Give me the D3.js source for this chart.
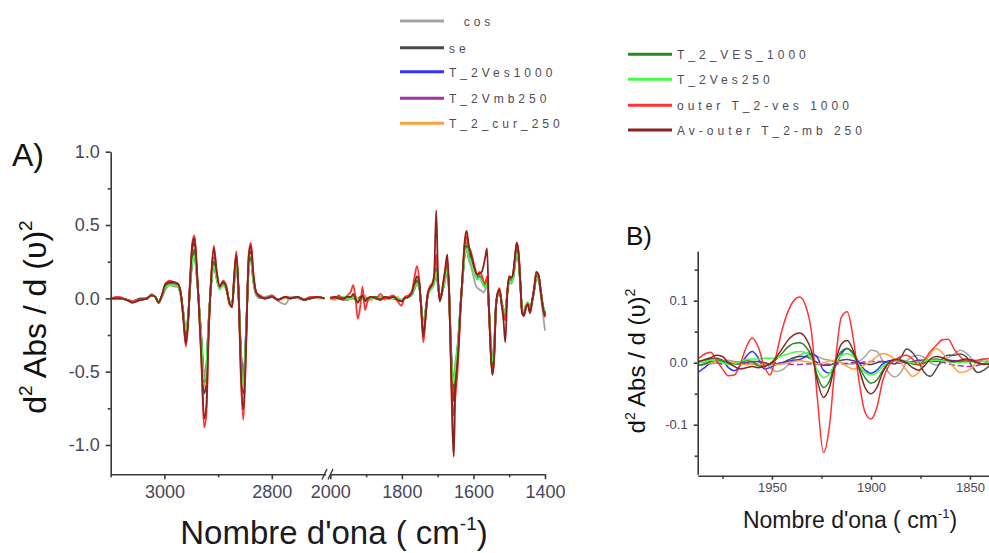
<!DOCTYPE html>
<html>
<head>
<meta charset="utf-8">
<script src="https://cdn.jsdelivr.net/npm/d3@7"></script>
<style>
  html, body { margin: 0; padding: 0; background: #fff; }
  svg { display: block; font-family: "Liberation Sans", Arial, sans-serif; }
</style>
</head>
<body>
<svg id="chart" width="989" height="553"></svg>
<script>
// ---- Series (legend order) ----
const seriesNames = ["  cos", "se", "T_2Ves1000", "T_2Vmb250", "T_2_cur_250",
                     "T_2_VES_1000", "T_2Ves250", "outer T_2-ves 1000", "Av-outer T_2-mb 250"];
const seriesColors = ["#a3a3a3", "#4b4b4b", "#3434ff", "#a034aa", "#ffa040",
                      "#228b22", "#44ff44", "#ff3333", "#8b2222"];

// ---- Panel A, high-wavenumber segment (cm-1) ----
const wnLeft = [3100, 3085, 3070, 3060, 3045, 3032, 3024, 3017, 3011, 3004,
  2998, 2990, 2982, 2975, 2970, 2965, 2960, 2956, 2952, 2948,
  2944, 2940, 2936, 2931, 2926, 2922, 2918, 2913, 2908, 2903,
  2897, 2891, 2885, 2879, 2874, 2870, 2866, 2862, 2858, 2853,
  2848, 2843, 2839, 2834, 2829, 2822, 2812, 2800, 2788, 2775,
  2765, 2752, 2740, 2728, 2715, 2702];

const cosLeft = [0.00, 0.01, -0.01, -0.02, -0.01, 0.00, 0.03, 0.01, -0.02, 0.01,
  0.06, 0.09, 0.08, 0.08, 0.03, -0.08, -0.22, -0.12, 0.08, 0.24,
  0.30, 0.16, -0.02, -0.26, -0.50, -0.46, -0.18, 0.08, 0.22, 0.14,
  0.06, 0.09, 0.06, -0.02, -0.03, 0.10, 0.22, 0.04, -0.30, -0.55,
  -0.22, 0.20, 0.26, 0.10, 0.02, 0.00, 0.01, 0.02, -0.02, -0.04,
  0.01, 0.00, -0.01, 0.01, 0.00, 0.00];
const seLeft = [0.00, 0.00, -0.01, -0.02, 0.00, 0.00, 0.02, 0.01, -0.03, 0.02,
  0.09, 0.11, 0.10, 0.09, 0.04, -0.12, -0.28, -0.16, 0.12, 0.32,
  0.38, 0.20, -0.03, -0.35, -0.65, -0.58, -0.22, 0.12, 0.28, 0.16,
  0.07, 0.10, 0.08, -0.03, -0.05, 0.14, 0.28, 0.05, -0.40, -0.65,
  -0.28, 0.25, 0.32, 0.13, 0.03, 0.01, 0.00, 0.01, -0.01, 0.01,
  0.00, 0.01, -0.01, 0.00, 0.01, 0.00];
const blueLeft = [0.00, 0.00, -0.01, -0.02, -0.01, 0.00, 0.02, 0.01, -0.02, 0.02,
  0.08, 0.10, 0.10, 0.08, 0.04, -0.10, -0.25, -0.14, 0.10, 0.27,
  0.32, 0.17, -0.02, -0.30, -0.56, -0.50, -0.19, 0.10, 0.24, 0.15,
  0.07, 0.10, 0.07, -0.02, -0.04, 0.12, 0.24, 0.05, -0.34, -0.57,
  -0.24, 0.21, 0.27, 0.12, 0.03, 0.01, 0.00, 0.01, -0.01, 0.01,
  0.00, 0.01, -0.01, 0.00, 0.01, 0.00];
const purpleLeft = [0.00, 0.00, -0.01, -0.02, -0.01, 0.00, 0.02, 0.01, -0.02, 0.02,
  0.07, 0.09, 0.09, 0.08, 0.03, -0.09, -0.24, -0.14, 0.09, 0.26,
  0.31, 0.17, -0.02, -0.29, -0.54, -0.48, -0.19, 0.09, 0.24, 0.14,
  0.07, 0.09, 0.07, -0.02, -0.04, 0.11, 0.24, 0.05, -0.33, -0.56,
  -0.24, 0.21, 0.27, 0.11, 0.03, 0.01, 0.00, 0.01, -0.01, 0.01,
  0.00, 0.01, -0.01, 0.00, 0.01, 0.00];
const orangeLeft = [0.00, 0.00, -0.01, -0.02, -0.01, 0.00, 0.02, 0.01, -0.03, 0.02,
  0.08, 0.10, 0.10, 0.09, 0.04, -0.11, -0.27, -0.15, 0.11, 0.30,
  0.35, 0.19, -0.02, -0.32, -0.60, -0.54, -0.21, 0.11, 0.27, 0.16,
  0.07, 0.10, 0.08, -0.02, -0.05, 0.13, 0.27, 0.05, -0.38, -0.62,
  -0.26, 0.23, 0.30, 0.12, 0.03, 0.02, 0.00, 0.01, -0.01, 0.00,
  0.00, 0.01, -0.01, 0.00, 0.01, 0.00];
const dgreenLeft = [0.00, 0.00, -0.01, -0.02, -0.01, 0.00, 0.02, 0.01, -0.03, 0.02,
  0.08, 0.10, 0.10, 0.09, 0.04, -0.10, -0.26, -0.15, 0.10, 0.28,
  0.33, 0.18, -0.02, -0.30, -0.57, -0.51, -0.20, 0.10, 0.25, 0.15,
  0.07, 0.10, 0.07, -0.02, -0.04, 0.12, 0.25, 0.05, -0.36, -0.59,
  -0.25, 0.22, 0.28, 0.12, 0.03, 0.01, 0.00, 0.01, -0.01, 0.01,
  0.00, 0.01, -0.01, 0.00, 0.01, 0.00];
const lgreenLeft = [0.00, 0.00, -0.01, -0.02, -0.01, 0.00, 0.02, 0.01, -0.02, 0.02,
  0.07, 0.09, 0.09, 0.08, 0.03, -0.09, -0.22, -0.13, 0.09, 0.25,
  0.29, 0.16, -0.02, -0.28, -0.56, -0.48, -0.18, 0.09, 0.22, 0.14,
  0.06, 0.09, 0.07, -0.02, -0.04, 0.10, 0.24, 0.04, -0.38, -0.60,
  -0.24, 0.20, 0.25, 0.11, 0.03, 0.01, 0.00, 0.01, -0.01, 0.01,
  0.00, 0.01, -0.01, 0.00, 0.01, 0.00];
const redLeft = [0.00, 0.01, -0.01, -0.02, -0.01, 0.00, 0.02, 0.01, -0.03, 0.03,
  0.10, 0.12, 0.11, 0.10, 0.05, -0.13, -0.33, -0.18, 0.14, 0.38,
  0.43, 0.24, -0.04, -0.45, -0.88, -0.80, -0.30, 0.14, 0.36, 0.20,
  0.08, 0.12, 0.09, -0.04, -0.06, 0.16, 0.32, 0.06, -0.50, -0.83,
  -0.36, 0.30, 0.38, 0.16, 0.04, 0.02, 0.00, 0.02, -0.01, 0.01,
  0.00, 0.01, -0.01, 0.01, 0.01, 0.00];
const brownLeft = [0.00, 0.00, -0.01, -0.03, -0.01, 0.00, 0.02, 0.01, -0.03, 0.03,
  0.10, 0.11, 0.11, 0.10, 0.05, -0.12, -0.31, -0.17, 0.13, 0.36,
  0.41, 0.23, -0.04, -0.42, -0.82, -0.74, -0.28, 0.13, 0.34, 0.19,
  0.08, 0.11, 0.08, -0.03, -0.06, 0.15, 0.30, 0.06, -0.46, -0.76,
  -0.33, 0.28, 0.36, 0.15, 0.04, 0.01, 0.00, 0.01, -0.01, 0.01,
  0.00, 0.01, -0.01, 0.00, 0.01, 0.00];

// ---- Panel A, fingerprint segment (cm-1) ----
const wnRight = [2000, 1988, 1976, 1964, 1952, 1942, 1936, 1930, 1923, 1916,
  1910, 1903, 1896, 1885, 1872, 1860, 1848, 1836, 1824, 1812,
  1801, 1792, 1782, 1772, 1765, 1758, 1752, 1746, 1740, 1734,
  1728, 1722, 1716, 1710, 1704, 1699, 1694, 1689, 1684, 1679,
  1673, 1668, 1663, 1659, 1655, 1651, 1646, 1641, 1636, 1630,
  1624, 1619, 1613, 1607, 1601, 1595, 1589, 1583, 1577, 1572,
  1567, 1562, 1557, 1552, 1547, 1542, 1537, 1532, 1527, 1521,
  1516, 1511, 1505, 1500, 1494, 1489, 1484, 1479, 1474, 1469,
  1464, 1459, 1454, 1448, 1442, 1436, 1430, 1424, 1418, 1412,
  1406, 1400];

const cosRight = [0.00, 0.00, 0.00, -0.01, -0.01, 0.00, 0.01, 0.00, 0.00, 0.01,
  0.00, 0.02, -0.02, 0.01, 0.00, 0.01, 0.01, 0.00, 0.00, -0.01,
  -0.01, 0.00, 0.01, 0.02, 0.06, 0.09, 0.08, -0.04, -0.17, -0.08,
  0.01, 0.05, 0.07, 0.10, 0.16, 0.08, 0.00, 0.02, 0.07, 0.12,
  0.18, 0.04, -0.30, -0.48, -0.55, -0.45, -0.36, -0.22, -0.04, 0.13,
  0.30, 0.33, 0.26, 0.22, 0.16, 0.10, 0.07, 0.06, 0.05, 0.04,
  0.06, 0.10, -0.04, -0.26, -0.40, -0.30, -0.04, 0.02, 0.04, -0.03,
  -0.07, -0.10, 0.04, 0.11, 0.10, 0.13, 0.22, 0.30, 0.25, 0.09,
  -0.07, -0.09, -0.05, -0.03, -0.07, -0.02, 0.05, 0.13, 0.12, 0.02,
  -0.10, -0.22];
const seRight = [0.00, 0.01, 0.00, -0.01, 0.01, 0.00, 0.00, 0.01, -0.01, 0.00,
  0.01, -0.01, 0.00, 0.01, 0.00, -0.01, 0.01, 0.00, 0.01, -0.01,
  -0.02, 0.00, 0.01, 0.03, 0.08, 0.12, 0.10, -0.06, -0.24, -0.12,
  0.02, 0.06, 0.08, 0.12, 0.22, 0.11, 0.00, 0.03, 0.08, 0.16,
  0.24, 0.05, -0.40, -0.62, -0.70, -0.56, -0.44, -0.27, -0.05, 0.16,
  0.35, 0.39, 0.32, 0.29, 0.23, 0.18, 0.15, 0.16, 0.14, 0.11,
  0.09, 0.13, -0.06, -0.33, -0.50, -0.38, -0.06, 0.03, 0.05, -0.03,
  -0.09, -0.13, 0.05, 0.14, 0.13, 0.16, 0.27, 0.35, 0.30, 0.11,
  -0.09, -0.11, -0.06, -0.03, -0.09, -0.02, 0.07, 0.16, 0.15, 0.05,
  -0.06, -0.12];
const blueRight = [0.00, 0.00, 0.01, 0.00, -0.01, 0.00, 0.01, 0.00, -0.01, 0.01,
  0.00, -0.01, 0.00, 0.00, 0.01, 0.00, 0.00, 0.01, 0.00, -0.01,
  -0.02, 0.00, 0.01, 0.03, 0.07, 0.11, 0.09, -0.05, -0.20, -0.10,
  0.02, 0.06, 0.08, 0.12, 0.19, 0.10, 0.00, 0.03, 0.08, 0.14,
  0.21, 0.05, -0.34, -0.54, -0.60, -0.49, -0.39, -0.24, -0.05, 0.14,
  0.32, 0.35, 0.29, 0.27, 0.21, 0.17, 0.14, 0.15, 0.13, 0.10,
  0.08, 0.12, -0.05, -0.30, -0.46, -0.35, -0.05, 0.03, 0.05, -0.03,
  -0.08, -0.12, 0.05, 0.13, 0.12, 0.15, 0.25, 0.33, 0.28, 0.10,
  -0.08, -0.10, -0.06, -0.03, -0.08, -0.02, 0.06, 0.15, 0.14, 0.05,
  -0.05, -0.11];
const purpleRight = [0.00, 0.00, 0.00, 0.00, 0.00, 0.00, 0.00, 0.00, 0.00, 0.00,
  0.00, 0.00, 0.00, 0.01, 0.00, 0.00, 0.00, 0.00, 0.01, 0.00,
  -0.01, 0.00, 0.01, 0.03, 0.07, 0.11, 0.09, -0.05, -0.19, -0.09,
  0.02, 0.06, 0.07, 0.11, 0.19, 0.10, 0.00, 0.03, 0.08, 0.14,
  0.21, 0.05, -0.33, -0.52, -0.58, -0.47, -0.38, -0.24, -0.05, 0.14,
  0.31, 0.34, 0.28, 0.26, 0.21, 0.16, 0.13, 0.14, 0.12, 0.09,
  0.08, 0.11, -0.05, -0.29, -0.44, -0.34, -0.05, 0.03, 0.05, -0.03,
  -0.08, -0.11, 0.05, 0.12, 0.12, 0.14, 0.24, 0.32, 0.27, 0.10,
  -0.08, -0.10, -0.06, -0.03, -0.08, -0.02, 0.06, 0.15, 0.13, 0.05,
  -0.05, -0.10];
const orangeRight = [0.00, -0.01, 0.00, 0.01, -0.01, 0.00, 0.00, 0.01, 0.00, -0.01,
  0.00, 0.01, 0.00, -0.01, 0.01, 0.00, -0.01, 0.01, 0.00, 0.01,
  -0.02, 0.00, 0.01, 0.03, 0.09, 0.13, 0.11, -0.06, -0.23, -0.11,
  0.02, 0.07, 0.09, 0.13, 0.24, 0.12, 0.00, 0.03, 0.09, 0.17,
  0.26, 0.04, -0.45, -0.85, -1.07, -0.70, -0.48, -0.28, -0.06, 0.16,
  0.36, 0.40, 0.33, 0.30, 0.24, 0.18, 0.15, 0.16, 0.14, 0.11,
  0.09, 0.14, -0.06, -0.34, -0.52, -0.40, -0.06, 0.04, 0.06, -0.03,
  -0.09, -0.13, 0.06, 0.14, 0.13, 0.16, 0.27, 0.36, 0.30, 0.11,
  -0.09, -0.11, -0.07, -0.03, -0.09, -0.02, 0.07, 0.16, 0.15, 0.05,
  -0.06, -0.12];
const dgreenRight = [0.00, 0.00, 0.01, 0.00, 0.00, 0.01, 0.01, -0.01, -0.01, 0.01,
  0.01, -0.01, 0.00, 0.00, 0.01, 0.00, 0.00, 0.00, 0.01, -0.01,
  -0.02, 0.00, 0.01, 0.03, 0.08, 0.12, 0.10, -0.05, -0.22, -0.11,
  0.02, 0.06, 0.08, 0.12, 0.20, 0.10, 0.00, 0.03, 0.08, 0.15,
  0.22, 0.05, -0.36, -0.56, -0.63, -0.51, -0.41, -0.25, -0.05, 0.15,
  0.33, 0.36, 0.30, 0.28, 0.22, 0.17, 0.14, 0.15, 0.13, 0.10,
  0.08, 0.12, -0.05, -0.31, -0.46, -0.36, -0.05, 0.03, 0.05, -0.03,
  -0.08, -0.12, 0.05, 0.13, 0.12, 0.15, 0.25, 0.33, 0.28, 0.10,
  -0.08, -0.10, -0.06, -0.03, -0.08, -0.02, 0.06, 0.15, 0.14, 0.05,
  -0.05, -0.10];
const lgreenRight = [0.00, 0.00, 0.00, 0.01, 0.00, 0.00, 0.01, 0.00, -0.01, 0.00,
  0.01, -0.01, 0.00, 0.00, 0.00, 0.01, 0.00, 0.00, 0.00, 0.00,
  -0.01, 0.00, 0.01, 0.03, 0.07, 0.10, 0.09, -0.05, -0.19, -0.09,
  0.02, 0.05, 0.07, 0.11, 0.18, 0.09, 0.00, 0.03, 0.07, 0.13,
  0.20, 0.04, -0.33, -0.52, -0.58, -0.47, -0.37, -0.23, -0.05, 0.14,
  0.30, 0.34, 0.28, 0.26, 0.20, 0.16, 0.13, 0.14, 0.12, 0.09,
  0.07, 0.11, -0.05, -0.28, -0.43, -0.33, -0.05, 0.03, 0.05, -0.03,
  -0.07, -0.11, 0.05, 0.12, 0.11, 0.14, 0.23, 0.31, 0.26, 0.09,
  -0.07, -0.09, -0.05, -0.03, -0.07, -0.02, 0.06, 0.14, 0.13, 0.05,
  -0.05, -0.09];
const redRight = [0.01, 0.00, 0.02, -0.01, 0.02, 0.05, 0.09, 0.01, -0.14, -0.05,
  0.08, -0.08, -0.02, 0.01, 0.00, 0.03, 0.00, 0.01, 0.02, -0.02,
  -0.05, 0.01, 0.02, 0.05, 0.14, 0.22, 0.14, -0.08, -0.30, -0.15,
  0.02, 0.08, 0.10, 0.15, 0.30, 0.12, -0.02, 0.03, 0.10, 0.18,
  0.25, 0.02, -0.38, -0.70, -0.80, -0.68, -0.55, -0.35, -0.08, 0.18,
  0.38, 0.42, 0.35, 0.32, 0.26, 0.20, 0.16, 0.18, 0.16, 0.12,
  0.10, 0.15, -0.06, -0.36, -0.52, -0.40, -0.06, 0.04, 0.07, -0.04,
  -0.10, -0.15, 0.06, 0.15, 0.14, 0.17, 0.28, 0.38, 0.32, 0.12,
  -0.10, -0.12, -0.07, -0.04, -0.10, -0.02, 0.08, 0.18, 0.16, 0.06,
  -0.06, -0.13];
const brownRight = [0.00, 0.01, 0.00, 0.00, 0.01, 0.01, 0.03, 0.00, -0.03, 0.00,
  0.02, -0.02, 0.00, 0.01, 0.00, -0.01, 0.01, 0.00, 0.01, -0.01,
  -0.02, 0.00, 0.01, 0.04, 0.10, 0.15, 0.12, -0.07, -0.26, -0.13,
  0.03, 0.07, 0.09, 0.15, 0.60, 0.15, -0.02, 0.03, 0.12, 0.20,
  0.30, 0.05, -0.45, -0.85, -1.08, -0.62, -0.48, -0.30, -0.06, 0.18,
  0.40, 0.46, 0.36, 0.30, 0.24, 0.19, 0.16, 0.17, 0.18, 0.22,
  0.28, 0.34, -0.05, -0.35, -0.52, -0.40, -0.05, 0.04, 0.06, -0.05,
  -0.15, -0.30, 0.04, 0.15, 0.14, 0.17, 0.28, 0.38, 0.31, 0.11,
  -0.10, -0.12, -0.07, -0.04, -0.10, -0.02, 0.07, 0.18, 0.16, 0.05,
  -0.06, -0.12];

// ---- Panel B, expanded 1987-1840 cm-1 window ----
const wnZoom = [1987, 1984, 1981, 1978, 1975, 1972, 1969, 1966, 1963, 1960,
  1957, 1954, 1951, 1948, 1945, 1942, 1939, 1936, 1933, 1930,
  1927, 1924, 1921, 1918, 1915, 1912, 1909, 1906, 1903, 1900,
  1897, 1894, 1891, 1888, 1885, 1882, 1879, 1876, 1873, 1870,
  1867, 1864, 1861, 1858, 1855, 1852, 1849, 1846, 1843, 1840];

const cosZoom = [0.002, 0.000, -0.002, 0.000, 0.003, 0.004, 0.002, 0.000, -0.002, 0.000,
  0.002, 0.000, -0.008, -0.014, -0.012, -0.004, 0.006, 0.012, 0.016, 0.014,
  0.010, 0.006, 0.004, 0.002, 0.000, -0.002, -0.002, 0.002, 0.010, 0.020,
  0.018, 0.002, -0.016, -0.023, -0.016, 0.002, 0.010, 0.012, 0.008, 0.000,
  -0.004, 0.000, 0.008, 0.014, 0.020, 0.016, 0.006, -0.001, -0.002, 0.000];
const seZoom = [0.000, 0.003, 0.006, 0.007, 0.004, 0.000, -0.002, -0.002, 0.000, 0.002,
  0.002, 0.000, -0.002, -0.003, 0.000, 0.004, 0.008, 0.010, 0.010, 0.006,
  0.000, -0.004, -0.004, 0.000, 0.004, 0.005, 0.003, 0.000, -0.002, -0.003,
  0.000, 0.002, 0.000, -0.002, 0.008, 0.022, 0.016, 0.002, -0.016, -0.022,
  -0.010, 0.006, 0.012, 0.012, 0.014, 0.010, -0.006, -0.016, -0.012, -0.004];
const blueZoom = [-0.015, -0.008, 0.000, 0.004, 0.003, -0.008, -0.013, -0.004, 0.010, 0.018,
  0.008, -0.010, -0.008, -0.002, 0.000, 0.002, 0.004, 0.005, 0.010, 0.015,
  0.008, -0.012, -0.017, -0.006, 0.014, 0.023, 0.016, 0.000, -0.012, -0.017,
  -0.012, -0.002, 0.003, 0.004, 0.002, 0.000, 0.002, 0.004, 0.004, 0.003,
  0.002, 0.003, 0.004, 0.003, 0.002, 0.003, 0.004, 0.003, 0.002, 0.002];
const purpleZoom = [0.002, 0.003, 0.002, 0.000, -0.002, -0.002, 0.000, 0.001, 0.000, -0.002,
  -0.002, -0.001, 0.000, 0.000, -0.001, -0.002, -0.003, -0.003, -0.002, -0.002,
  -0.003, -0.003, -0.002, -0.002, -0.002, -0.001, 0.000, 0.000, 0.001, 0.002,
  0.002, 0.002, 0.001, 0.000, -0.001, 0.000, 0.002, 0.003, 0.004, 0.004,
  0.003, 0.001, -0.002, -0.004, -0.005, -0.006, -0.006, -0.004, -0.002, 0.000];
const orangeZoom = [-0.005, -0.003, 0.000, 0.002, 0.003, 0.002, 0.000, -0.002, -0.003, -0.002,
  -0.002, -0.003, -0.004, -0.003, -0.002, 0.000, 0.002, 0.003, 0.002, 0.000,
  -0.002, 0.000, 0.003, 0.004, 0.000, -0.006, -0.010, -0.008, -0.004, 0.002,
  0.010, 0.015, 0.012, 0.006, 0.000, -0.012, -0.022, -0.016, 0.000, 0.014,
  0.023, 0.016, 0.004, -0.008, -0.016, -0.014, -0.008, 0.004, 0.006, 0.000];
const dgreenZoom = [-0.004, -0.002, 0.002, 0.004, 0.003, 0.000, -0.002, 0.000, 0.003, 0.002,
  -0.005, -0.006, -0.002, 0.005, 0.015, 0.025, 0.031, 0.032, 0.026, 0.010,
  -0.022, -0.040, -0.030, 0.000, 0.018, 0.023, 0.014, -0.006, -0.024, -0.033,
  -0.028, -0.012, 0.000, 0.004, 0.004, 0.002, -0.002, -0.003, 0.000, 0.004,
  0.006, 0.004, 0.002, 0.001, 0.002, 0.003, 0.002, 0.000, -0.002, -0.002];
const lgreenZoom = [0.000, 0.002, 0.004, 0.003, 0.000, -0.003, -0.002, 0.002, 0.005, 0.006,
  0.006, 0.007, 0.007, 0.008, 0.011, 0.014, 0.017, 0.018, 0.016, 0.006,
  -0.012, -0.024, -0.018, 0.000, 0.012, 0.015, 0.010, -0.004, -0.016, -0.020,
  -0.016, -0.006, 0.000, 0.003, 0.004, 0.002, 0.000, 0.001, 0.003, 0.004,
  0.004, 0.003, 0.002, 0.001, 0.000, 0.001, 0.002, 0.003, 0.002, 0.000];
const redZoom = [0.007, 0.014, 0.017, 0.004, -0.010, -0.021, -0.020, -0.002, 0.025, 0.040,
  0.026, -0.005, -0.020, 0.010, 0.052, 0.082, 0.100, 0.106, 0.092, 0.048,
  -0.060, -0.145, -0.103, 0.000, 0.073, 0.082, 0.040, -0.030, -0.080, -0.091,
  -0.072, -0.028, -0.005, 0.004, 0.010, 0.012, 0.006, -0.004, 0.005, 0.018,
  0.028, 0.037, 0.038, 0.022, 0.010, 0.003, 0.002, 0.004, 0.006, 0.007];
const brownZoom = [0.002, 0.005, 0.008, 0.012, 0.010, 0.000, -0.006, -0.010, -0.008, -0.006,
  -0.008, -0.006, -0.002, 0.008, 0.022, 0.036, 0.045, 0.048, 0.040, 0.018,
  -0.030, -0.056, -0.040, 0.000, 0.030, 0.036, 0.020, -0.010, -0.040, -0.050,
  -0.040, -0.015, 0.000, 0.005, 0.004, 0.000, -0.008, -0.012, -0.005, 0.006,
  0.010, 0.008, 0.004, 0.002, 0.004, 0.006, 0.004, 0.000, -0.003, -0.002];

// ---- Axis ticks ----
const yTicksA = [-1.0, -0.5, 0.0, 0.5, 1.0];
const yMinorA = [-0.75, -0.25, 0.25, 0.75];
const xTicksLeft = [3000, 2800];
const xMinorLeft = [3100, 2900];
const xTicksRight = [2000, 1800, 1600, 1400];
const xMinorRight = [1900, 1700, 1500];
const yTicksB = [-0.1, 0.0, 0.1];
const yMinorB = [-0.15, -0.05, 0.05, 0.15];
const xTicksB = [1950, 1900, 1850];
const xMinorB = [1975, 1925, 1875];

const leftSets = [cosLeft, seLeft, blueLeft, purpleLeft, orangeLeft, dgreenLeft, lgreenLeft, redLeft, brownLeft];
const rightSets = [cosRight, seRight, blueRight, purpleRight, orangeRight, dgreenRight, lgreenRight, redRight, brownRight];
const zoomSets = [cosZoom, seZoom, blueZoom, purpleZoom, orangeZoom, dgreenZoom, lgreenZoom, redZoom, brownZoom];

const series = seriesNames.map((name, i) => ({
  name, color: seriesColors[i],
  left: wnLeft.map((w, j) => [w, leftSets[i][j]]),
  right: wnRight.map((w, j) => [w, rightSets[i][j]]),
  zoom: wnZoom.map((w, j) => [w, zoomSets[i][j]])
}));

const svg = d3.select("#chart");
const AXIS = "#3a3a3a";
const TICKTXT = "#4a4658";

function styleAxis(g, fontSize) {
  g.select(".domain").attr("stroke", AXIS).attr("stroke-width", 1.6);
  g.selectAll(".tick line").attr("stroke", AXIS).attr("stroke-width", 1.6);
  g.selectAll(".tick text").attr("fill", TICKTXT).attr("font-size", fontSize)
    .attr("font-family", "'Liberation Sans', Arial, sans-serif");
}
const fmt1 = d => d.toFixed(1);

// ================= Panel A =================
const yA = d3.scaleLinear().domain([-1.2, 1.0]).range([474.3, 151.7]);
const xL = d3.scaleLinear().domain([3100, 2700]).range([110.7, 325.5]);
const xR = d3.scaleLinear().domain([2000, 1400]).range([330.3, 545]);

const lineL = d3.line().defined(d => d[1] != null).x(d => xL(d[0])).y(d => yA(d[1])).curve(d3.curveMonotoneX);
const lineR = d3.line().defined(d => d[1] != null).x(d => xR(d[0])).y(d => yA(d[1])).curve(d3.curveMonotoneX);

const gA = svg.append("g");
series.forEach(s => {
  gA.append("path").attr("d", lineL(s.left)).attr("fill", "none")
    .attr("stroke", s.color).attr("stroke-width", 1.8).attr("stroke-linejoin", "round");
  gA.append("path").attr("d", lineR(s.right)).attr("fill", "none")
    .attr("stroke", s.color).attr("stroke-width", 1.8).attr("stroke-linejoin", "round");
});

// y axis A
const gyA = svg.append("g").attr("transform", "translate(110.7,0)")
  .call(d3.axisLeft(yA).tickValues(yTicksA).tickFormat(fmt1).tickSize(5).tickPadding(6).tickSizeOuter(0));
styleAxis(gyA, 18);
const gyAm = svg.append("g").attr("transform", "translate(110.7,0)")
  .call(d3.axisLeft(yA).tickValues(yMinorA).tickFormat("").tickSize(3).tickSizeOuter(0));
styleAxis(gyAm, 18); gyAm.select(".domain").remove();

// x axis A (broken)
const gxL = svg.append("g").attr("transform", "translate(0,474.3)")
  .call(d3.axisBottom(xL).tickValues(xTicksLeft).tickFormat(d => d).tickSize(5).tickPadding(6).tickSizeOuter(0));
styleAxis(gxL, 18);
const gxLm = svg.append("g").attr("transform", "translate(0,474.3)")
  .call(d3.axisBottom(xL).tickValues(xMinorLeft).tickFormat("").tickSize(3).tickSizeOuter(0));
styleAxis(gxLm, 18); gxLm.select(".domain").remove();
const gxR = svg.append("g").attr("transform", "translate(0,474.3)")
  .call(d3.axisBottom(xR).tickValues(xTicksRight).tickFormat(d => d).tickSize(5).tickPadding(6).tickSizeOuter(0));
styleAxis(gxR, 18);
const gxRm = svg.append("g").attr("transform", "translate(0,474.3)")
  .call(d3.axisBottom(xR).tickValues(xMinorRight).tickFormat("").tickSize(3).tickSizeOuter(0));
styleAxis(gxRm, 18); gxRm.select(".domain").remove();

// axis break marks
const brk = svg.append("g").attr("stroke", AXIS).attr("stroke-width", 1.4);
brk.append("line").attr("x1", 322).attr("y1", 479.5).attr("x2", 327).attr("y2", 469);
brk.append("line").attr("x1", 328).attr("y1", 479.5).attr("x2", 333).attr("y2", 469);

// titles A
svg.append("text").attr("x", 12).attr("y", 166).attr("font-size", 32).attr("fill", "#111").text("A)");

const xtA = svg.append("text").attr("x", 334).attr("y", 544).attr("text-anchor", "middle")
  .attr("font-size", 33).attr("fill", "#1a1a22");
xtA.append("tspan").text("Nombre d'ona ( cm");
xtA.append("tspan").attr("font-size", 19).attr("dy", -14).text("-1");
xtA.append("tspan").attr("dy", 14).text(")");

const ytA = svg.append("text").attr("transform", "translate(46,317) rotate(-90)")
  .attr("text-anchor", "middle").attr("font-size", 32).attr("fill", "#111");
ytA.append("tspan").text("d");
ytA.append("tspan").attr("font-size", 19).attr("dy", -14).text("2");
ytA.append("tspan").attr("dy", 14).text(" Abs / d (\u03C5)");
ytA.append("tspan").attr("font-size", 19).attr("dy", -14).text("2");

// ================= Panel B =================
const yB = d3.scaleLinear().domain([-0.18, 0.18]).range([474.3, 251.1]);
const xB = d3.scaleLinear().domain([1987.5, 1840]).range([697.7, 989.8]);
const lineB = d3.line().defined(d => d[1] != null).x(d => xB(d[0])).y(d => yB(d[1])).curve(d3.curveMonotoneX);

svg.append("clipPath").attr("id", "clipB").append("rect")
  .attr("x", 698).attr("y", 240).attr("width", 300).attr("height", 236);
const gB = svg.append("g").attr("clip-path", "url(#clipB)");
series.forEach((s, i) => {
  gB.append("path").attr("d", lineB(s.zoom)).attr("fill", "none")
    .attr("stroke", s.color).attr("stroke-width", 1.5)
    .attr("stroke-dasharray", i === 3 ? "6,3" : null);
});

const gyB = svg.append("g").attr("transform", "translate(697.7,0)")
  .call(d3.axisLeft(yB).tickValues(yTicksB).tickFormat(fmt1).tickSize(4).tickPadding(6).tickSizeOuter(0));
styleAxis(gyB, 13);
const gyBm = svg.append("g").attr("transform", "translate(697.7,0)")
  .call(d3.axisLeft(yB).tickValues(yMinorB).tickFormat("").tickSize(3).tickSizeOuter(0));
styleAxis(gyBm, 13); gyBm.select(".domain").remove();

const gxB = svg.append("g").attr("transform", "translate(0,475.7)")
  .call(d3.axisBottom(xB).tickValues(xTicksB).tickFormat(d => d).tickSize(4).tickPadding(3).tickSizeOuter(0));
styleAxis(gxB, 13);
const gxBm = svg.append("g").attr("transform", "translate(0,475.7)")
  .call(d3.axisBottom(xB).tickValues(xMinorB).tickFormat("").tickSize(3).tickSizeOuter(0));
styleAxis(gxBm, 13); gxBm.select(".domain").remove();

svg.append("text").attr("x", 626).attr("y", 245).attr("font-size", 26).attr("fill", "#111").text("B)");

const xtB = svg.append("text").attr("x", 850).attr("y", 528).attr("text-anchor", "middle")
  .attr("font-size", 23).attr("fill", "#1a1a22");
xtB.append("tspan").text("Nombre d'ona ( cm");
xtB.append("tspan").attr("font-size", 13).attr("dy", -10).text("-1");
xtB.append("tspan").attr("dy", 10).text(")");

const ytB = svg.append("text").attr("transform", "translate(645,361) rotate(-90)")
  .attr("text-anchor", "middle").attr("font-size", 24).attr("fill", "#111");
ytB.append("tspan").text("d");
ytB.append("tspan").attr("font-size", 14).attr("dy", -10).text("2");
ytB.append("tspan").attr("dy", 10).text(" Abs / d (\u03C5)");
ytB.append("tspan").attr("font-size", 14).attr("dy", -10).text("2");

// ================= Legend =================
const legendRows = [
  { x: 400, y: 21 }, { x: 400, y: 47.7 }, { x: 400, y: 71.7 }, { x: 400, y: 98.3 }, { x: 400, y: 123.3 },
  { x: 628, y: 54.3 }, { x: 628, y: 79.3 }, { x: 628, y: 105.3 }, { x: 628, y: 130 }
];
const gLeg = svg.append("g");
series.forEach((s, i) => {
  const r = legendRows[i];
  gLeg.append("line").attr("x1", r.x).attr("x2", r.x + 44).attr("y1", r.y).attr("y2", r.y)
    .attr("stroke", s.color).attr("stroke-width", 3);
  gLeg.append("text").attr("x", r.x + 49).attr("y", r.y + 5)
    .attr("font-size", 12).attr("letter-spacing", 4).attr("fill", "#4d4a5a")
    .style("white-space", "pre").text(s.name);
});
</script>
</body>
</html>
